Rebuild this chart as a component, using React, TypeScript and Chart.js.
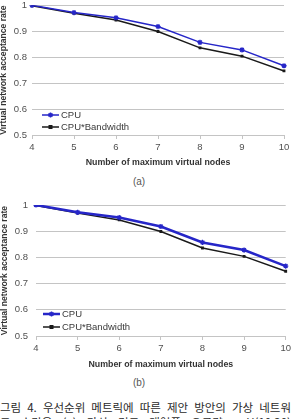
import React, { useEffect, useRef } from 'react';
import { Chart, registerables } from 'chart.js';

Chart.register(...registerables);

// ---- data ----
const categories = ['4', '5', '6', '7', '8', '9', '10'];
const cpuRate = [1.0, 0.972, 0.952, 0.918, 0.857, 0.828, 0.767];
const cpuBandwidthRate = [0.998, 0.969, 0.943, 0.899, 0.836, 0.804, 0.747];
const seriesNames = ['CPU', 'CPU*Bandwidth'];
const yMin = 0.5;
const yMax = 1;
const yStep = 0.1;
const xTitle = 'Number of maximum virtual nodes';
const yTitle = 'Virtual network acceptance rate';
const panelLabels = ['(a)', '(b)'];
const captionLines = [
  '그림 4. 우선순위 메트릭에 따른 제안 방안의 가상 네트워',
  '크 수락율 (a) 가상 링크 대역폭 요구량 : U(10,20)',
];

const BLUE = '#2626c8';
const BLACK = '#1a1a1a';
const GRID = '#c4c4c4';
const TICK = '#505050';
const FONT = "'Liberation Sans', Arial, sans-serif";

const insideLegend = {
  id: 'insideLegend',
  afterDatasetsDraw(chart: any, _args: any, opts: any) {
    const { ctx, chartArea } = chart;
    const ds = chart.data.datasets;
    ctx.save();
    ds.forEach((d: any, i: number) => {
      const y = chartArea.bottom - opts.rows[i];
      const x0 = chartArea.left + opts.leftOffset;
      const x1 = x0 + opts.lineLen;
      const xm = (x0 + x1) / 2;
      ctx.strokeStyle = d.borderColor;
      ctx.lineWidth = d.borderWidth;
      ctx.beginPath();
      ctx.moveTo(x0, y);
      ctx.lineTo(x1, y);
      ctx.stroke();
      if (d.pointStyle === 'star') {
        const r = d.pointRadius;
        ctx.lineWidth = d.pointBorderWidth;
        ctx.strokeStyle = d.pointBorderColor;
        ctx.beginPath();
        ctx.moveTo(xm, y - r); ctx.lineTo(xm, y + r);
        ctx.moveTo(xm - r, y); ctx.lineTo(xm + r, y);
        const q = r * 0.707;
        ctx.moveTo(xm - q, y - q); ctx.lineTo(xm + q, y + q);
        ctx.moveTo(xm - q, y + q); ctx.lineTo(xm + q, y - q);
        ctx.stroke();
      } else {
        const r = d.pointRadius;
        ctx.fillStyle = d.pointBackgroundColor;
        ctx.fillRect(xm - r, y - r, 2 * r, 2 * r);
      }
      ctx.fillStyle = '#3a3a3a';
      ctx.font = `9.5px ${FONT}`;
      ctx.textAlign = 'left';
      ctx.textBaseline = 'middle';
      ctx.fillText(d.label, x1 + 2, y + 0.5);
    });
    ctx.restore();
  },
};

type Panel = {
  padTop: number;
  padRight: number;
  yWidth: number;
  xHeight: number;
  yLabelPad: number;
  yTitlePad: number;
  cpuWidth: number;
  bwWidth: number;
  legendLeft: number;
  legendRows: number[];
};

function makeConfig(p: Panel): any {
  return {
    type: 'line',
    data: {
      labels: categories,
      datasets: [
        {
          label: seriesNames[0],
          data: cpuRate,
          borderColor: BLUE,
          borderWidth: p.cpuWidth,
          pointStyle: 'star',
          pointRadius: 2.6,
          pointBorderWidth: 1.3,
          pointBorderColor: BLUE,
          pointBackgroundColor: BLUE,
          tension: 0,
          fill: false,
        },
        {
          label: seriesNames[1],
          data: cpuBandwidthRate,
          borderColor: BLACK,
          borderWidth: p.bwWidth,
          pointStyle: 'rect',
          pointRadius: 2,
          pointBorderWidth: 0,
          pointBorderColor: BLACK,
          pointBackgroundColor: BLACK,
          tension: 0,
          fill: false,
        },
      ],
    },
    options: {
      animation: false,
      responsive: false,
      maintainAspectRatio: false,
      layout: { padding: { top: p.padTop, right: p.padRight, left: 0, bottom: 0 } },
      plugins: {
        legend: { display: false },
        tooltip: { enabled: false },
        insideLegend: { leftOffset: p.legendLeft, lineLen: 17, rows: p.legendRows },
      },
      scales: {
        x: {
          type: 'category',
          offset: false,
          grid: {
            drawOnChartArea: false,
            drawTicks: true,
            tickLength: 4,
            color: GRID,
          },
          border: { display: true, color: GRID, width: 1 },
          ticks: {
            color: TICK,
            font: { size: 9.5, family: FONT },
            padding: 3,
            maxRotation: 0,
            autoSkip: false,
          },
          title: {
            display: true,
            text: xTitle,
            color: '#333',
            font: { size: 8.8, weight: 'bold', family: FONT },
            padding: { top: 0, bottom: 0 },
          },
          afterFit: (s: any) => {
            s.height = p.xHeight;
            s.paddingLeft = 0;
            s.paddingRight = 0;
          },
        },
        y: {
          min: yMin,
          max: yMax,
          grid: { color: GRID, drawTicks: false, lineWidth: 1 },
          border: { display: false },
          ticks: {
            stepSize: yStep,
            color: TICK,
            font: { size: 9.5, family: FONT },
            padding: p.yLabelPad,
            callback: (v: any) => String(Number(Number(v).toFixed(1))),
          },
          title: {
            display: true,
            text: yTitle,
            color: '#333',
            font: { size: 8.6, weight: 'bold', family: FONT },
            padding: { top: p.yTitlePad, bottom: 0 },
          },
          afterFit: (s: any) => {
            s.width = p.yWidth;
            s.paddingTop = 0;
            s.paddingBottom = 0;
          },
        },
      },
    },
    plugins: [insideLegend],
  };
}

const panelA: Panel = {
  padTop: 3, padRight: 7, yWidth: 32, xHeight: 33, yLabelPad: 5, yTitlePad: -1.3,
  cpuWidth: 1.5, bwWidth: 1.5, legendLeft: 10, legendRows: [20, 8],
};
const panelB: Panel = {
  padTop: 10, padRight: 5, yWidth: 36, xHeight: 34, yLabelPad: 8, yTitlePad: -0.3,
  cpuWidth: 2.5, bwWidth: 1.5, legendLeft: 7, legendRows: [22, 9],
};

function ChartCanvas({ panel, top, height }: { panel: Panel; top: number; height: number }) {
  const ref = useRef<HTMLCanvasElement | null>(null);
  useEffect(() => {
    if (!ref.current) return;
    const chart = new Chart(ref.current, makeConfig(panel));
    return () => chart.destroy();
  }, [panel]);
  return (
    <canvas
      ref={ref}
      width={291}
      height={height}
      style={{ position: 'absolute', left: 0, top, width: 291, height }}
    />
  );
}

export default function App() {
  const labelStyle: React.CSSProperties = {
    position: 'absolute',
    left: 139,
    transform: 'translateX(-50%)',
    fontFamily: FONT,
    fontSize: 10,
    color: '#555',
    lineHeight: '12px',
    whiteSpace: 'nowrap',
  };
  return (
    <div
      style={{
        position: 'fixed',
        left: 0,
        top: 0,
        width: 291,
        height: 419,
        overflow: 'hidden',
        background: '#fff',
      }}
    >
      <ChartCanvas panel={panelA} top={0} height={168} />
      <div style={{ ...labelStyle, top: 176 }}>{panelLabels[0]}</div>
      <ChartCanvas panel={panelB} top={195} height={175} />
      <div style={{ ...labelStyle, top: 377 }}>{panelLabels[1]}</div>
      <div
        style={{
          position: 'absolute',
          left: 0,
          top: 400,
          width: 291,
          fontFamily: "'Noto Sans CJK KR', sans-serif",
          fontSize: 11.5,
          lineHeight: '15px',
          color: '#2a2a2a',
        }}
      >
        {captionLines.map((l, i) => (
          <div
            key={i}
            style={{ textAlign: 'justify', textAlignLast: 'justify', whiteSpace: 'normal' }}
          >
            {l}
          </div>
        ))}
      </div>
    </div>
  );
}
